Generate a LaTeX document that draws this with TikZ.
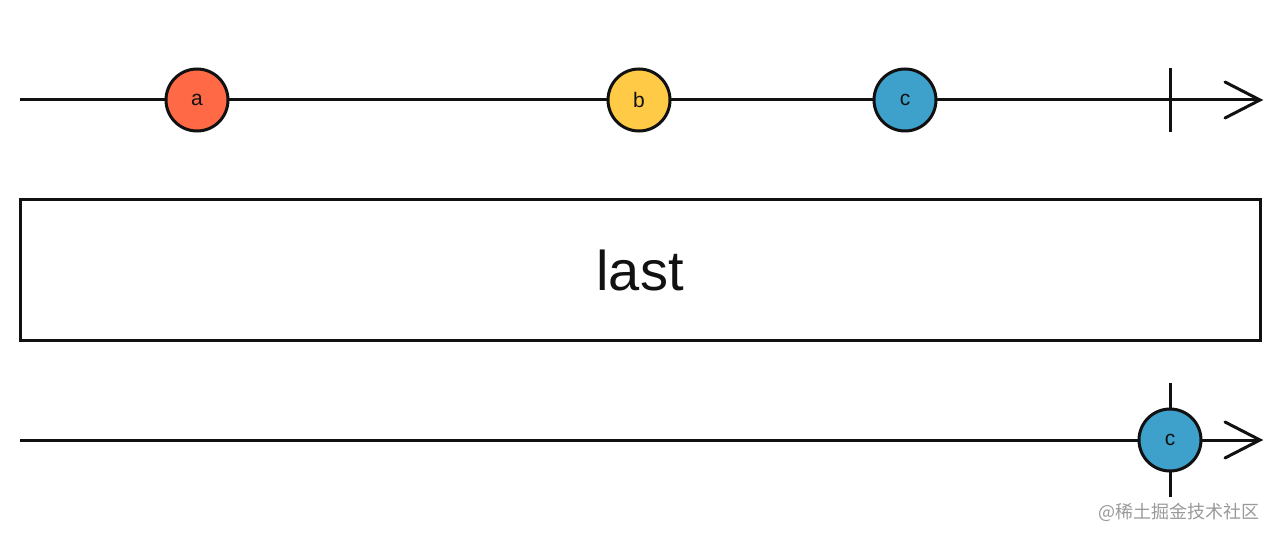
\documentclass[tikz,border=0pt]{standalone}
\usepackage{fontspec}
\setmainfont{Liberation Sans}
\newfontfamily\cjk{Noto Sans CJK SC}
\definecolor{cred}{HTML}{FF6946}
\definecolor{cyel}{HTML}{FFCB46}
\definecolor{cblu}{HTML}{3DA1CB}
\definecolor{ink}{HTML}{111111}
\begin{document}
\begin{tikzpicture}[x=1pt,y=-1pt,
  line/.style={draw=ink,line width=3pt},
  marble/.style={circle,draw=ink,line width=3pt,minimum size=62pt,inner sep=0pt,font=\fontsize{21}{21}\selectfont,text=ink},
  tip/.style={draw=ink,line width=3pt,line cap=round,line join=miter}]
\useasboundingbox (0,0) rectangle (1280,540);
% top timeline
\coordinate (s1) at (20,100);
\coordinate (e1) at (1260,100);
\draw[line] (s1) -- (e1);
\draw[tip] (1225,82) -- (e1) -- (1225,118);
\coordinate (t1a) at (1170,68);
\coordinate (t1b) at (1170,132);
\draw[line] (t1a) -- (t1b);
\node[marble,fill=cred] (a) at (197,100) {a};
\node[marble,fill=cyel] (b) at (639,100) {b};
\node[marble,fill=cblu] (c) at (905,100) {c};
% operator box
\node[draw=ink,line width=3pt,minimum width=1240pt,minimum height=140pt,inner sep=0pt,font=\fontsize{56}{56}\selectfont,text=ink] (op) at (640,270) {last};
% bottom timeline
\coordinate (s2) at (20,440);
\coordinate (e2) at (1260,440);
\draw[line] (s2) -- (e2);
\draw[tip] (1225,422) -- (e2) -- (1225,458);
\coordinate (t2a) at (1170,383);
\coordinate (t2b) at (1170,497);
\draw[line] (t2a) -- (t2b);
\node[marble,fill=cblu] (c2) at (1170,440) {c};
% watermark
\node[anchor=east,text=black!40,font=\cjk\fontsize{18}{18}\selectfont] (wm) at (1263,512) {@稀土掘金技术社区};
\end{tikzpicture}
\end{document}
